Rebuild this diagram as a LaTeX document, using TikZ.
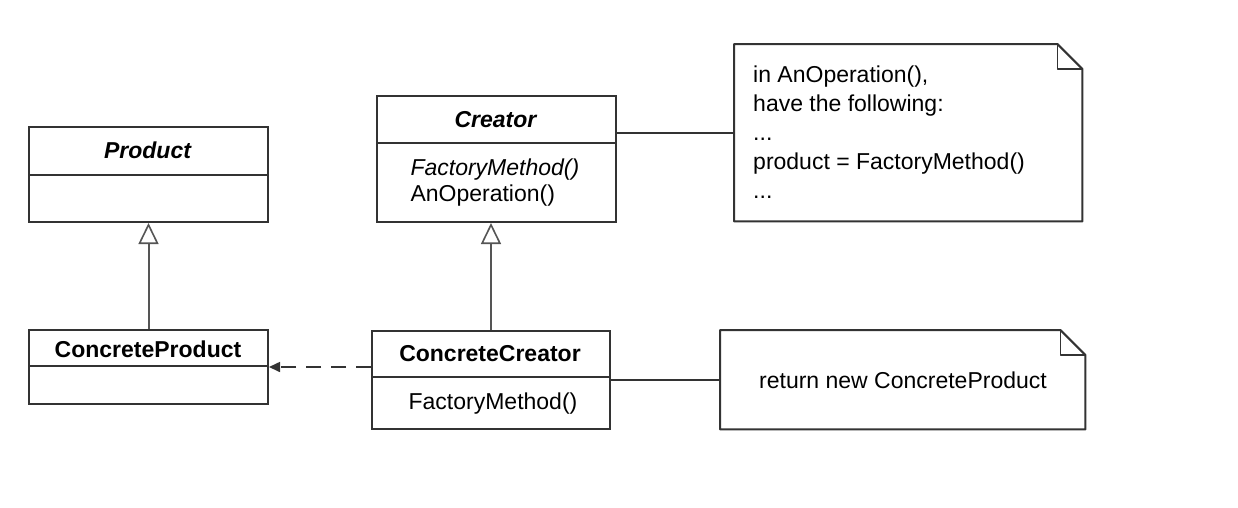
\documentclass[tikz,border=0pt]{standalone}
\usepackage{fontspec}
\setmainfont{Liberation Sans}
\usetikzlibrary{arrows.meta}
\definecolor{ink}{HTML}{333333}
\definecolor{wire}{HTML}{555555}
\tikzset{
  box/.style={draw=ink, line width=2pt, anchor=north west, inner sep=0pt, fill=white},
  notebox/.style={anchor=north west, inner sep=0pt},
  inherit/.style={draw=wire, line width=2pt, -{Triangle[open, width=20pt, length=21pt, line width=1.6pt]}},
  depend/.style={draw=ink, line width=1.6pt, dash pattern=on 15pt off 10pt, -{Triangle[width=10pt, length=11pt]}},
  link/.style={draw=ink, line width=1.6pt},
  cls/.style={font=\fontsize{23}{28}\selectfont},
}
\begin{document}
\begin{tikzpicture}[x=1pt, y=-1pt]
  \useasboundingbox[fill=white] (0,0) rectangle (1238,507);

  % class boxes
  \node[box, minimum width=239pt, minimum height=95pt] (product) at (28,126) {};
  \node[box, minimum width=239pt, minimum height=74pt] (cprod) at (28,329) {};
  \node[box, minimum width=239pt, minimum height=126pt] (creator) at (376,95) {};
  \node[box, minimum width=238pt, minimum height=98pt] (ccreator) at (371,330) {};

  % compartment dividers
  \draw[ink, line width=1.6pt] (28,175) -- (267,175);
  \draw[ink, line width=1.6pt] (28,366) -- (267,366);
  \draw[ink, line width=1.6pt] (376,143) -- (615,143);
  \draw[ink, line width=1.6pt] (371,377) -- (609,377);

  % class texts
  \node[cls, font=\fontsize{23}{28}\selectfont\bfseries\itshape] (tproduct) at (147.5,150) {Product};
  \node[cls, font=\fontsize{23}{28}\selectfont\bfseries] (tcprod) at (148,349) {ConcreteProduct};
  \node[cls, font=\fontsize{23}{28}\selectfont\bfseries\itshape] (tcreator) at (495.5,120) {Creator};
  \node[cls, anchor=west, font=\fontsize{23}{28}\selectfont\itshape] (tfm) at (407,170) {FactoryMethod()};
  \node[cls, anchor=west] (tanop) at (407,196) {AnOperation()};
  \node[cls, font=\fontsize{23}{28}\selectfont\bfseries] (tccreator) at (490,354) {ConcreteCreator};
  \node[cls] (tfm2) at (493,404) {FactoryMethod()};

  % notes with folded corner
  \node[notebox, minimum width=348pt, minimum height=177pt] (note1) at (734,44) {};
  \draw[ink, line width=2pt, line join=round]
    (note1.north west) -- ([xshift=-25pt]note1.north east) -- ([yshift=-25pt]note1.north east)
    -- (note1.south east) -- (note1.south west) -- cycle;
  \draw[ink, line width=1.6pt, line join=round]
    ([xshift=-25pt]note1.north east) -- ([xshift=-25pt,yshift=-25pt]note1.north east) -- ([yshift=-25pt]note1.north east);
  \node[anchor=north west, align=left, inner sep=0pt, font=\fontsize{23}{29}\selectfont] (note1text) at (753,66)
    {in AnOperation(),\\have the following:\\...\\product = FactoryMethod()\\...};

  \node[notebox, minimum width=365pt, minimum height=99pt] (note2) at (720,330) {};
  \draw[ink, line width=2pt, line join=round]
    (note2.north west) -- ([xshift=-25pt]note2.north east) -- ([yshift=-25pt]note2.north east)
    -- (note2.south east) -- (note2.south west) -- cycle;
  \draw[ink, line width=1.6pt, line join=round]
    ([xshift=-25pt]note2.north east) -- ([xshift=-25pt,yshift=-25pt]note2.north east) -- ([yshift=-25pt]note2.north east);
  \node[cls] (note2text) at (903,380) {return new ConcreteProduct};

  % connectors
  \draw[inherit] (cprod.north) -- (product.south);
  \draw[inherit] (ccreator.north) -- (ccreator.north |- creator.south);
  \draw[depend] (ccreator.west |- cprod.east) -- (cprod.east);
  \draw[link] (creator.east |- note1.west) -- (note1.west);
  \draw[link] (ccreator.east |- note2.west) -- (note2.west);
\end{tikzpicture}
\end{document}
